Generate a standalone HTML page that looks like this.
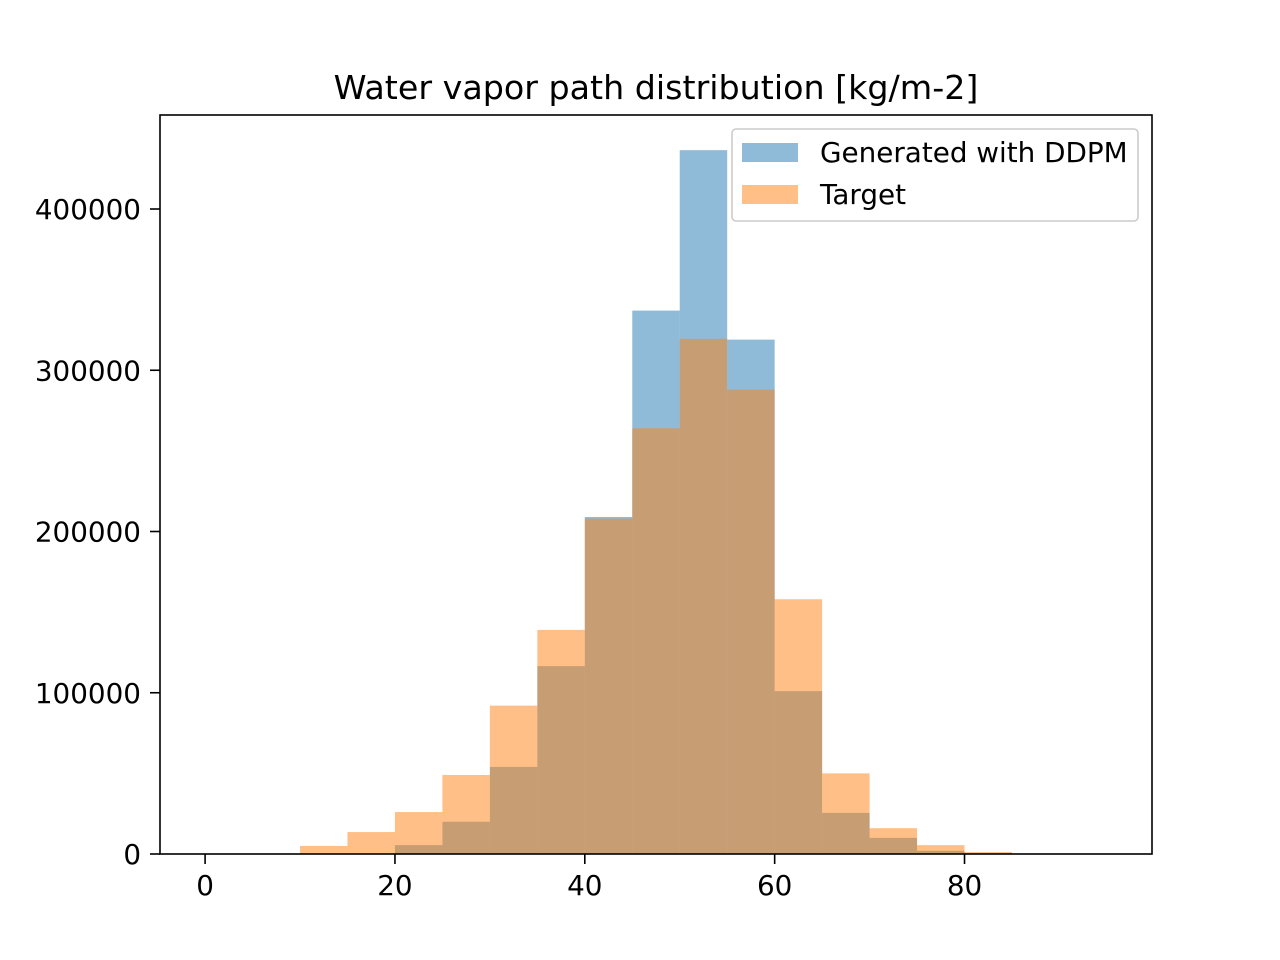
<!DOCTYPE html>
<html><head><meta charset="utf-8"><style>
body{margin:0;background:#fff;}
svg{display:block;font-family:"DejaVu Sans","Liberation Sans",sans-serif;}
</style></head><body>
<svg id="chart" width="1280" height="960">
<rect width="1280" height="960" fill="#fff"/>
<text x="656" y="99" font-size="33.3" text-anchor="middle">Water vapor path distribution [kg/m-2]</text>
<g id="bars"></g>
<rect x="160" y="115" width="992" height="739" fill="none" stroke="#000" stroke-width="1.6"/>
<g id="axes"></g>
<g>
<rect x="732" y="129" width="406" height="92" rx="4" fill="#fff" fill-opacity="0.8" stroke="#ccc" stroke-width="1.6"/>
<rect x="742" y="143" width="56" height="19" fill="#1f77b4" fill-opacity="0.5"/>
<text x="820" y="162" font-size="27.8">Generated with DDPM</text>
<rect x="742" y="185" width="56" height="19" fill="#ff7f0e" fill-opacity="0.5"/>
<text x="820" y="204" font-size="27.8">Target</text>
</g>
</svg>
<script>
const binEdges = [0,5,10,15,20,25,30,35,40,45,50,55,60,65,70,75,80,85,90,95];
const generated = [0,0,0,0,5500,20000,54000,116500,209000,337000,436500,319000,101000,25500,10000,2000,500,0,0];
const target = [0,0,5000,13600,26000,49000,92000,139000,208000,264000,319500,288000,158000,50000,16000,5500,1200,0,0];
const xTicks = [0,20,40,60,80];
const yTicks = [0,100000,200000,300000,400000];
const xs = v => 160 + (v + 4.75) / 104.5 * 992;
const ys = v => 854 - v / 458300 * 739;
const NS = "http://www.w3.org/2000/svg";
const bars = document.getElementById('bars');
function series(vals, color, name){
  vals.forEach((v,i)=>{
    if(v<=0) return;
    const r=document.createElementNS(NS,'rect');
    const x0=xs(binEdges[i]), x1=xs(binEdges[i+1]);
    r.setAttribute('x',x0); r.setAttribute('width',x1-x0);
    r.setAttribute('y',ys(v)); r.setAttribute('height',854-ys(v));
    r.setAttribute('fill',color); r.setAttribute('fill-opacity','0.5');
    
    
    bars.appendChild(r);
  });
}
series(generated,'#1f77b4','generated');
series(target,'#ff7f0e','target');
const axes=document.getElementById('axes');
xTicks.forEach(t=>{
  const x=xs(t);
  const l=document.createElementNS(NS,'line');
  l.setAttribute('x1',x);l.setAttribute('x2',x);l.setAttribute('y1',854);l.setAttribute('y2',864);
  l.setAttribute('stroke','#000');l.setAttribute('stroke-width','1.6');
  
  
  axes.appendChild(l);
  const tx=document.createElementNS(NS,'text');
  tx.setAttribute('x',x);tx.setAttribute('y',895);tx.setAttribute('font-size','27.8');tx.setAttribute('text-anchor','middle');
  tx.textContent=t;
  
  
  axes.appendChild(tx);
});
yTicks.forEach(t=>{
  const y=ys(t);
  const l=document.createElementNS(NS,'line');
  l.setAttribute('x1',150);l.setAttribute('x2',160);l.setAttribute('y1',y);l.setAttribute('y2',y);
  l.setAttribute('stroke','#000');l.setAttribute('stroke-width','1.6');
  
  
  axes.appendChild(l);
  const tx=document.createElementNS(NS,'text');
  tx.setAttribute('x',141);tx.setAttribute('y',y+10);tx.setAttribute('font-size','27.8');tx.setAttribute('text-anchor','end');
  tx.textContent=t;
  
  
  axes.appendChild(tx);
});
</script>
</body></html>
